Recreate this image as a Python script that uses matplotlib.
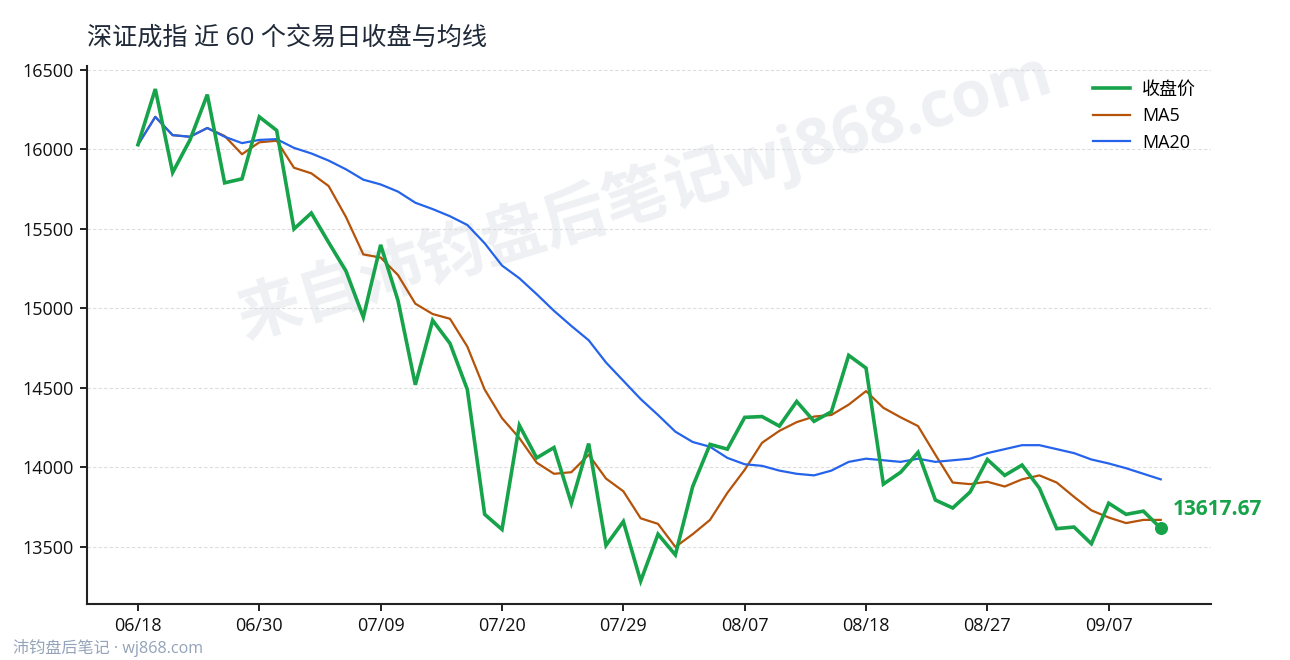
#!/usr/bin/env python

import matplotlib
matplotlib.use("Agg")
import matplotlib.pyplot as plt

# Closing price and moving averages
close = [16030, 16380, 15855, 16060, 16345, 15790, 15815, 16205, 16120, 15500,
         15600, 15415, 15235, 14945, 15400, 15050, 14520, 14925, 14780, 14490,
         13705, 13610, 14265, 14060, 14125, 13775, 14150, 13510, 13660, 13285,
         13580, 13450, 13880, 14145, 14115, 14315, 14320, 14260, 14415, 14290,
         14350, 14705, 14625, 13895, 13970, 14095, 13795, 13745, 13845, 14050,
         13950, 14015, 13870, 13615, 13625, 13520, 13775, 13705, 13725, 13617.67]
ma5 = [16030, 16205, 16090, 16080, 16135, 16085, 15970, 16045, 16055, 15885,
       15850, 15770, 15575, 15340, 15320, 15210, 15030, 14965, 14935, 14760,
       14490, 14310, 14185, 14030, 13960, 13970, 14080, 13930, 13850, 13680,
       13645, 13500, 13580, 13670, 13840, 13985, 14155, 14230, 14285, 14320,
       14330, 14395, 14480, 14375, 14315, 14260, 14080, 13905, 13895, 13910,
       13880, 13925, 13950, 13905, 13815, 13730, 13685, 13650, 13670, 13670]
ma20 = [16030, 16205, 16090, 16080, 16135, 16080, 16040, 16060, 16065, 16010,
        15975, 15930, 15875, 15810, 15780, 15735, 15665, 15625, 15580, 15525,
        15410, 15270, 15190, 15090, 14985, 14890, 14800, 14660, 14545, 14430,
        14330, 14225, 14160, 14130, 14060, 14020, 14010, 13980, 13960, 13950,
        13980, 14035, 14055, 14045, 14035, 14055, 14035, 14045, 14055, 14090,
        14115, 14140, 14140, 14115, 14090, 14050, 14025, 13995, 13960, 13925]

tick_idx = [0, 7, 14, 21, 28, 35, 42, 49, 56]
tick_labels = ["06/18", "06/30", "07/09", "07/20", "07/29", "08/07", "08/18", "08/27", "09/07"]
y_ticks = [13500, 14000, 14500, 15000, 15500, 16000, 16500]

GREEN = "#16a34a"
ORANGE = "#b45309"
BLUE = "#2563eb"

plt.rcParams["font.family"] = ["Open Sans", "Noto Sans CJK SC", "DejaVu Sans"]

fig = plt.figure(figsize=(12.9, 6.6), dpi=100)
ax = fig.add_axes([87 / 1290, 1 - 604 / 660, (1211 - 87) / 1290, (604 - 66) / 660])
ax.patch.set_alpha(0)

x = list(range(len(close)))
ax.plot(x, close, color=GREEN, lw=2.6, label="收盘价", zorder=4, solid_joinstyle="miter")
ax.plot(x, ma5, color=ORANGE, lw=1.6, label="MA5", zorder=3)
ax.plot(x, ma20, color=BLUE, lw=1.6, label="MA20", zorder=3)
ax.scatter([x[-1]], [close[-1]], s=70, color=GREEN, zorder=5)

ax.annotate(f"{close[-1]:.2f}", (x[-1], close[-1]), xytext=(9, 6), textcoords="offset points",
            color=GREEN, fontsize=15, fontweight="bold", va="bottom", ha="left", annotation_clip=False)

ax.set_xlim(-2.94, 61.9)
ax.set_ylim(13141, 16525)
ax.set_xticks(tick_idx)
ax.set_xticklabels(tick_labels)
ax.set_yticks(y_ticks)
ax.tick_params(axis="both", labelsize=13, length=5, width=1.4, color="#222222", labelcolor="#111111", pad=4.5)
ax.grid(axis="y", color="#dddddd", lw=0.8, ls=(0, (3, 2)))
ax.set_axisbelow(True)

for side in ["top", "right"]:
    ax.spines[side].set_visible(False)
for side in ["left", "bottom"]:
    ax.spines[side].set_linewidth(1.5)
    ax.spines[side].set_color("#222222")

fig.text(87 / 1290, 1 - 38 / 660, "深证成指 近 60 个交易日收盘与均线", fontsize=18.1, color="#1f2937", va="center", ha="left")

ax.legend(loc="upper right", bbox_to_anchor=(1.001, 1.003), frameon=False, fontsize=13,
          handlelength=2.05, labelspacing=0.47, handletextpad=0.65)

# watermarks, kept behind the axes
fig.text(645 / 1290, 1 - 196 / 660, "来自沛钧盘后笔记wj868.com", fontsize=46, fontweight="bold", color="#eef0f4",
         rotation=17, ha="center", va="center", zorder=-1)
fig.text(13 / 1290, 1 - 648 / 660, "沛钧盘后笔记 · wj868.com", fontsize=11.6, color="#94a3b8", va="center", ha="left")

fig.savefig("out.png", dpi=100)
